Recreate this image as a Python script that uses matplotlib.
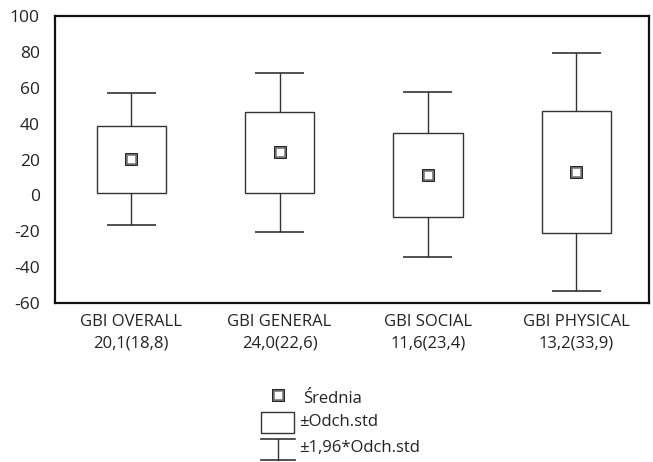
import matplotlib
matplotlib.use("Agg")
import matplotlib.pyplot as plt
from matplotlib.patches import Rectangle
from matplotlib.lines import Line2D

plt.rcParams['font.family'] = ['Open Sans', 'DejaVu Sans']
plt.rcParams['axes.unicode_minus'] = False
plt.rcParams['text.color'] = '#222222'
plt.rcParams['xtick.color'] = '#222222'
plt.rcParams['ytick.color'] = '#222222'

# data
names = ['GBI OVERALL', 'GBI GENERAL', 'GBI SOCIAL', 'GBI PHYSICAL']
means = [20.1, 24.0, 11.6, 13.2]
sds = [18.8, 22.6, 23.4, 33.9]
labels = ['%s\n%s(%s)' % (n, str(m).replace('.', ','), str(s).replace('.', ','))
          for n, m, s in zip(names, means, sds)]

W, H = 653, 462
fig = plt.figure(figsize=(W / 100, H / 100), dpi=100)
ax = fig.add_axes([55 / W, 1 - 303 / H, 594 / W, 287 / H])

dark = '#333333'
box_w = 0.466
cap_w = 0.33


def mean_marker(a, x, y):
    a.plot(x, y, marker='s', ms=7, mfc='white', mec='#6f6f6f', mew=1.8, zorder=3)
    a.plot(x, y, marker='s', ms=8, mfc='none', mec='#222222', mew=0.7, zorder=3)


for i, (m, s) in enumerate(zip(means, sds)):
    x = i + 1
    ax.add_patch(Rectangle((x - box_w / 2, m - s), box_w, 2 * s,
                           facecolor='white', edgecolor=dark, lw=1.0, zorder=2))
    ax.vlines(x, m + s, m + 1.96 * s, color=dark, lw=1.0)
    ax.vlines(x, m - 1.96 * s, m - s, color=dark, lw=1.0)
    ax.hlines([m + 1.96 * s, m - 1.96 * s], x - cap_w / 2, x + cap_w / 2, color=dark, lw=1.2)
    mean_marker(ax, x, m)

ax.set_xlim(0.486, 4.49)
ax.set_ylim(-60, 100)
ax.set_yticks(range(-60, 101, 20))
ax.set_xticks(range(1, 5))
ax.set_xticklabels(labels, linespacing=1.45)
ax.tick_params(axis='both', length=0)
ax.tick_params(axis='y', pad=11, labelsize=12.5)
ax.tick_params(axis='x', pad=8, labelsize=12)
for sp in ax.spines.values():
    sp.set_linewidth(1.6)
    sp.set_color('#111111')

# legend drawn in pixel space at the bottom
lg = fig.add_axes([0, 0, 1, 1], facecolor='none')
lg.set_xlim(0, W)
lg.set_ylim(H, 0)
lg.axis('off')
mean_marker(lg, 278, 395)
lg.add_patch(Rectangle((261, 412), 33, 21, facecolor='white', edgecolor=dark, lw=1.0))
lg.add_line(Line2D([261, 295], [439, 439], color=dark, lw=1.2))
lg.add_line(Line2D([278, 278], [439, 460], color=dark, lw=1.0))
lg.add_line(Line2D([261, 295], [460, 460], color=dark, lw=1.2))
lg.text(303, 399, 'Średnia', fontsize=12, va='center')
lg.text(299, 422, '±Odch.std', fontsize=12, va='center')
lg.text(299, 448, '±1,96*Odch.std', fontsize=12, va='center')

fig.savefig('out.png', dpi=100)
